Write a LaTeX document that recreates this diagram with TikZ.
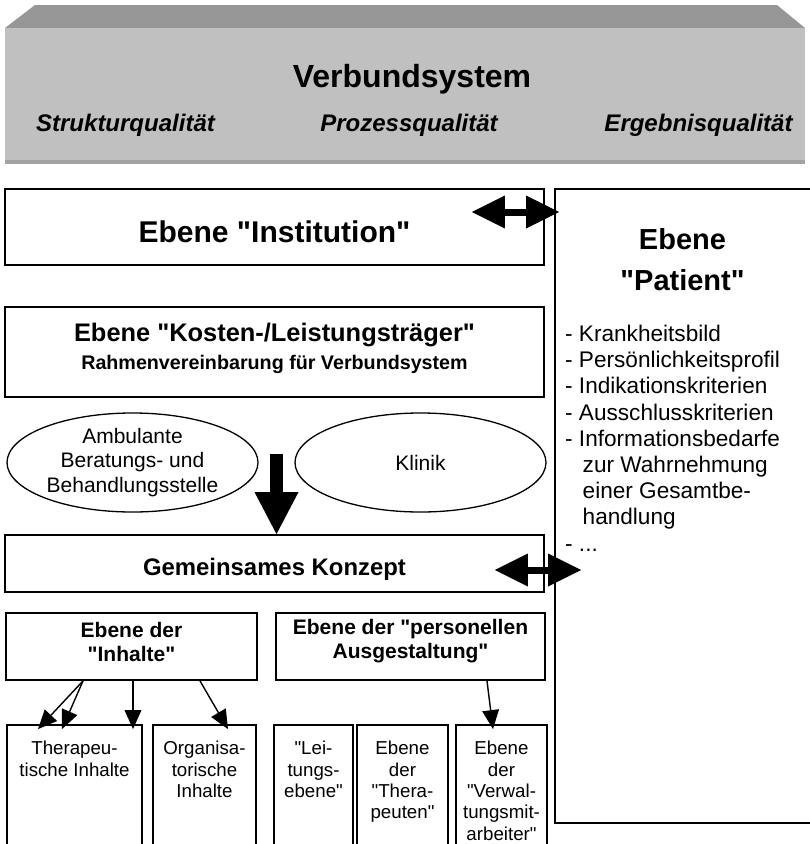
\documentclass[tikz,border=0pt]{standalone}
\usepackage{fontspec}
\setmainfont{Liberation Sans}[Ligatures=TeXOff]
\usetikzlibrary{arrows.meta,shapes.geometric,calc}

\definecolor{bannertop}{HTML}{969696}
\definecolor{bannerfront}{HTML}{C0C0C0}
\definecolor{banneredge}{HTML}{A3A3A3}

\tikzset{
  box/.style={draw, line width=1.8pt, inner sep=0pt},
  oval/.style={draw, ellipse, line width=1.3pt, inner sep=0pt, align=center,
    minimum width=251pt, minimum height=99pt, font=\fontsize{21}{24.5}\selectfont},
  txt/.style={inner sep=0pt, align=center},
  smalltxt/.style={txt, font=\fontsize{18.7}{21.3}\selectfont},
  thinarrow/.style={line width=1.4pt, -{Triangle[length=19pt,width=17pt,line width=0pt]}},
  bigarrow/.style={line width=13pt, -{Triangle[length=42pt,width=44pt,line width=0pt]}},
  dblarrow/.style={line width=7pt,
    {Triangle[length=33pt,width=33pt,line width=0pt]}-{Triangle[length=33pt,width=33pt,line width=0pt]}},
  lowbox/.style={box, minimum height=145pt},
}

\begin{document}
\begin{tikzpicture}[x=1pt,y=-1pt]
\useasboundingbox (0,0) rectangle (810,844);
\clip (0,0) rectangle (810,844);

% banner: bevelled top face and front face
\fill[bannertop] (35,5) -- (777,5) -- (805,28) -- (5,28) -- cycle;
\fill[bannerfront] (5,28) rectangle (805,164);
\fill[banneredge] (5,160) rectangle (805,164);
\node[txt, font=\fontsize{32}{36}\selectfont\bfseries] (verbund) at (412,79) {Verbundsystem};
\node[txt, font=\fontsize{24}{28}\selectfont\bfseries\itshape] (struktur) at (125.5,125) {Strukturqualität};
\node[txt, font=\fontsize{24}{28}\selectfont\bfseries\itshape] (prozess) at (409,125) {Prozessqualität};
\node[txt, font=\fontsize{24}{28}\selectfont\bfseries\itshape] (ergebnis) at (698.5,125) {Ergebnisqualität};

% right panel: patient level
\node[box, minimum width=280pt, minimum height=634pt] (patient) at (695,506) {};
\node[txt, font=\fontsize{29}{41}\selectfont\bfseries] (patienttitle) at (682.5,260) {Ebene\\"Patient"};
\node[inner sep=0pt, anchor=north west, align=left, font=\fontsize{22.6}{26.2}\selectfont] (plist) at (565,325)
  {- Krankheitsbild\\- Persönlichkeitsprofil\\- Indikationskriterien\\- Ausschlusskriterien\\- Informationsbedarfe\\
   \hspace*{17.5pt}zur Wahrnehmung\\\hspace*{17.5pt}einer Gesamtbe-\\\hspace*{17.5pt}handlung\\- ...};

% institution level
\node[box, minimum width=539pt, minimum height=76pt] (inst) at (274.5,227) {};
\node[txt, font=\fontsize{30}{34}\selectfont\bfseries] (insttxt) at ([yshift=-5pt]inst.center) {Ebene "Institution"};

% cost bearers
\node[box, minimum width=539pt, minimum height=90pt] (kosten) at (274.5,352) {};
\node[txt, font=\fontsize{25.4}{28}\selectfont\bfseries] (kostentxt) at ([yshift=3.5pt]kosten.center)
  {Ebene "Kosten-/Leistungsträger"\\{\fontsize{19.7}{28}\selectfont Rahmenvereinbarung für Verbundsystem}};

% the two partners
\node[oval] (ambulant) at (132.5,462.5) {Ambulante\\Beratungs- und\\Behandlungsstelle};
\node[oval] (klinik) at (420.5,462.5) {Klinik};

% common concept
\node[box, minimum width=539pt, minimum height=57pt] (konzept) at (274.5,563.5) {};
\node[txt, font=\fontsize{23.9}{27}\selectfont\bfseries] (konzepttxt) at ([yshift=-6pt]konzept.center) {Gemeinsames Konzept};

\coordinate (downstart) at (276.5,454);
\draw[bigarrow] (downstart) -- (konzept.north -| downstart);

% level of contents / staffing
\node[box, minimum width=251pt, minimum height=67pt] (inhalte) at (131.5,646.5) {};
\node[txt, font=\fontsize{21}{24}\selectfont\bfseries] (inhaltetxt) at ([yshift=5pt]inhalte.center) {Ebene der\\"Inhalte"};
\node[box, minimum width=269pt, minimum height=67pt] (personal) at (410.5,646.5) {};
\node[txt, font=\fontsize{21}{24}\selectfont\bfseries] (personaltxt) at ([yshift=5pt]personal.center) {Ebene der "personellen\\Ausgestaltung"};

% lower boxes
\node[lowbox, minimum width=135pt] (thera) at (74.5,797.5) {};
\node[lowbox, minimum width=103pt] (orga) at (204.5,797.5) {};
\node[lowbox, minimum width=79pt] (leit) at (313.5,797.5) {};
\node[lowbox, minimum width=91pt] (therap) at (402.5,797.5) {};
\node[lowbox, minimum width=91pt] (verw) at (501.5,797.5) {};

\node[smalltxt, anchor=north] (theratxt) at ([yshift=-17pt]thera.north) {Therapeu-\\tische Inhalte};
\node[smalltxt, anchor=north] (orgatxt) at ([yshift=-17pt]orga.north) {Organisa-\\torische\\Inhalte};
\node[smalltxt, anchor=north] (leittxt) at ([yshift=-17pt]leit.north) {"Lei-\\tungs-\\ebene"};
\node[smalltxt, anchor=north] (theraptxt) at ([yshift=-17pt]therap.north) {Ebene\\der\\"Thera-\\peuten"};
\node[smalltxt, anchor=north] (verwtxt) at ([yshift=-17pt]verw.north) {Ebene\\der\\"Verwal-\\tungsmit-\\arbeiter"};

% arrows from the content level
\draw[thinarrow] ([xshift=-48.5pt]inhalte.south) -- ([xshift=-36.5pt,yshift=-5pt]thera.north);
\draw[thinarrow] ([xshift=-48.5pt]inhalte.south) -- ([xshift=-12.5pt,yshift=-5pt]thera.north);
\draw[thinarrow] ([xshift=1.5pt]inhalte.south) -- ([xshift=58.5pt,yshift=-5pt]thera.north);
\draw[thinarrow] ([xshift=68.5pt]inhalte.south) -- ([xshift=23.5pt,yshift=-5pt]orga.north);
\draw[thinarrow] ([xshift=76.5pt]personal.south) -- ([xshift=-8.5pt,yshift=-5pt]verw.north);

% exchange with the patient level
\coordinate (ia) at ($(inst.east)+(-73,-15)$);
\draw[dblarrow] (ia) -- ([xshift=5pt]patient.west |- ia);
\coordinate (ka) at ($(konzept.east)+(-50,6.5)$);
\draw[dblarrow] (ka) -- ([xshift=27pt]patient.west |- ka);
\end{tikzpicture}
\end{document}
